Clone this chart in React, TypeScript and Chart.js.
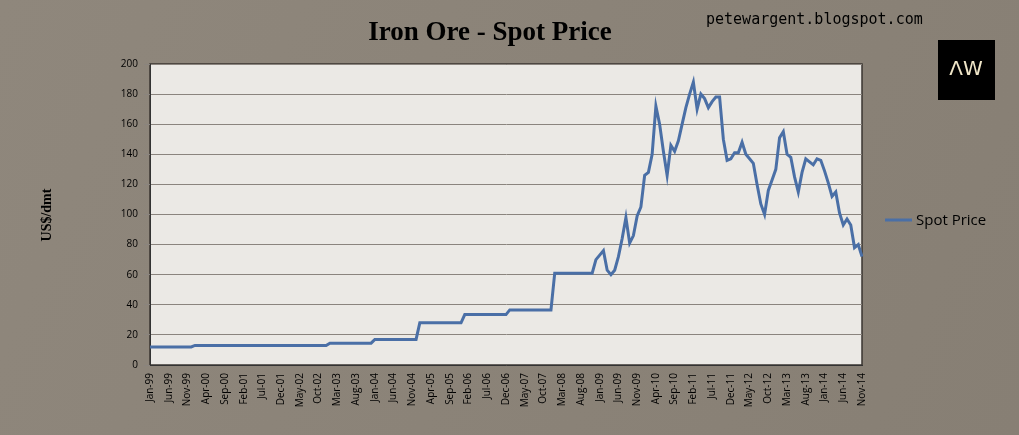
import React, { useEffect, useRef } from "react";
import { Chart, registerables } from "chart.js";
Chart.register(...registerables);

const MONTHS = ["Jan","Feb","Mar","Apr","May","Jun","Jul","Aug","Sep","Oct","Nov","Dec"];
const START_YEAR = 1999;
const N_POINTS = 191;
const categories: string[] = [];
for (let i = 0; i < N_POINTS; i++) {
  const y = START_YEAR + Math.floor(i / 12);
  categories.push(MONTHS[i % 12] + "-" + String(y % 100).padStart(2, "0"));
}

const spot1999to2008: number[] = [
  12,12,12,12,12,12,12,12,12,12,12,12,
  13,13,13,13,13,13,13,13,13,13,13,13,
  13,13,13,13,13,13,13,13,13,13,13,13,
  13,13,13,13,13,13,13,13,13,13,13,13,
  14.5,14.5,14.5,14.5,14.5,14.5,14.5,14.5,14.5,14.5,14.5,14.5,
  17,17,17,17,17,17,17,17,17,17,17,17,
  28,28,28,28,28,28,28,28,28,28,28,28,
  33.5,33.5,33.5,33.5,33.5,33.5,33.5,33.5,33.5,33.5,33.5,33.5,
  36.6,36.6,36.6,36.6,36.6,36.6,36.6,36.6,36.6,36.6,36.6,36.6,
  61,61,61,61,61,61,61,61,61,61,
];
const spot2008to2014: number[] = [
  61,70,73,76,63,60,63,72,84,98,81,86,99,105,126,128,140,172,160,142,
  126,146,142,149,160,171,180,188,170,180,177,171,175,178,178,150,136,137,141,141,
  148,140,137,134,120,107,100,116,123,130,151,155,140,138,125,115,128,137,135,133,
  137,136,129,121,112,115,101,93,97,93,78,80,72,
];
const spotPrice = [...spot1999to2008, ...spot2008to2014];
const yTicks = [0,20,40,60,80,100,120,140,160,180,200];

export default function App() {
  const ref = useRef<HTMLCanvasElement>(null);
  useEffect(() => {
    const deco = {
      id: "deco",
      beforeDraw(c: any) {
        const ctx = c.ctx;
        const g = ctx.createLinearGradient(0, 0, 1019, 435);
        g.addColorStop(0, "#8f877c");
        g.addColorStop(1, "#877f74");
        ctx.fillStyle = g;
        ctx.fillRect(0, 0, 1019, 435);
        const a = c.chartArea;
        ctx.fillStyle = "#ebe9e5";
        ctx.fillRect(a.left, a.top, a.right - a.left, a.bottom - a.top);
        ctx.strokeStyle = "#3a3530";
        ctx.lineWidth = 1.5;
        ctx.strokeRect(a.left, a.top, a.right - a.left, a.bottom - a.top);
      },
      afterDraw(c: any) {
        const ctx = c.ctx;
        ctx.save();
        ctx.fillStyle = "#000";
        ctx.font = "bold 27px 'Liberation Serif'";
        ctx.textAlign = "center";
        ctx.textBaseline = "middle";
        ctx.fillText("Iron Ore - Spot Price", 490, 33);
        ctx.font = "15px 'DejaVu Sans Mono'";
        ctx.textAlign = "left";
        ctx.fillText("petewargent.blogspot.com", 706, 20);
        ctx.fillStyle = "#000";
        ctx.fillRect(938, 40, 57, 60);
        ctx.fillStyle = "#f0e6c8";
        ctx.font = "20px 'DejaVu Sans'";
        ctx.textAlign = "center";
        ctx.fillText("ΛW", 966, 70);
        ctx.fillStyle = "#000";
        ctx.font = "bold 14px 'Liberation Serif'";
        ctx.translate(47, 215);
        ctx.rotate(-Math.PI / 2);
        ctx.fillText("US$/dmt", 0, 0);
        ctx.restore();
        ctx.save();
        ctx.strokeStyle = "#4a6fa6";
        ctx.lineWidth = 3;
        ctx.beginPath();
        ctx.moveTo(885, 220);
        ctx.lineTo(912, 220);
        ctx.stroke();
        ctx.fillStyle = "#000";
        ctx.font = "15px 'Open Sans'";
        ctx.textBaseline = "middle";
        ctx.fillText("Spot Price", 916, 221);
        ctx.restore();
      },
    };
    const chart = new Chart(ref.current!, {
      type: "line",
      data: {
        labels: categories,
        datasets: [{
          label: "Spot Price",
          data: spotPrice,
          borderColor: "#4a6fa6",
          borderWidth: 3,
          pointRadius: 0,
          tension: 0,
        }],
      },
      plugins: [deco],
      options: {
        animation: false,
        responsive: false,
        layout: { padding: { left: 0, right: 157, top: 64, bottom: 0 } },
        plugins: { legend: { display: false }, tooltip: { enabled: false } },
        scales: {
          x: {
            afterFit: (s: any) => { s.height = 70; },
            grid: { display: false, drawTicks: true, tickLength: 5, color: "#555" },
            border: { color: "#333" },
            ticks: {
              autoSkip: false,
              maxRotation: 90,
              minRotation: 90,
              color: "#000",
              font: { family: "'Open Sans'", size: 10 },
              callback: (_v: any, i: number) => (i % 5 === 0 ? categories[i] : null),
            },
          },
          y: {
            min: 0,
            max: 200,
            afterFit: (s: any) => { s.width = 150; },
            afterBuildTicks: (s: any) => { s.ticks = yTicks.map((v) => ({ value: v })); },
            grid: { color: "#8a847e", lineWidth: 1, tickLength: 6 },
            border: { color: "#333" },
            ticks: { color: "#000", font: { family: "'Open Sans'", size: 10 }, padding: 6 },
          },
        },
      },
    });
    return () => chart.destroy();
  }, []);
  return (
    <canvas
      ref={ref}
      width={1019}
      height={435}
      style={{ position: "fixed", left: 0, top: 0, width: 1019, height: 435 }}
    />
  );
}
